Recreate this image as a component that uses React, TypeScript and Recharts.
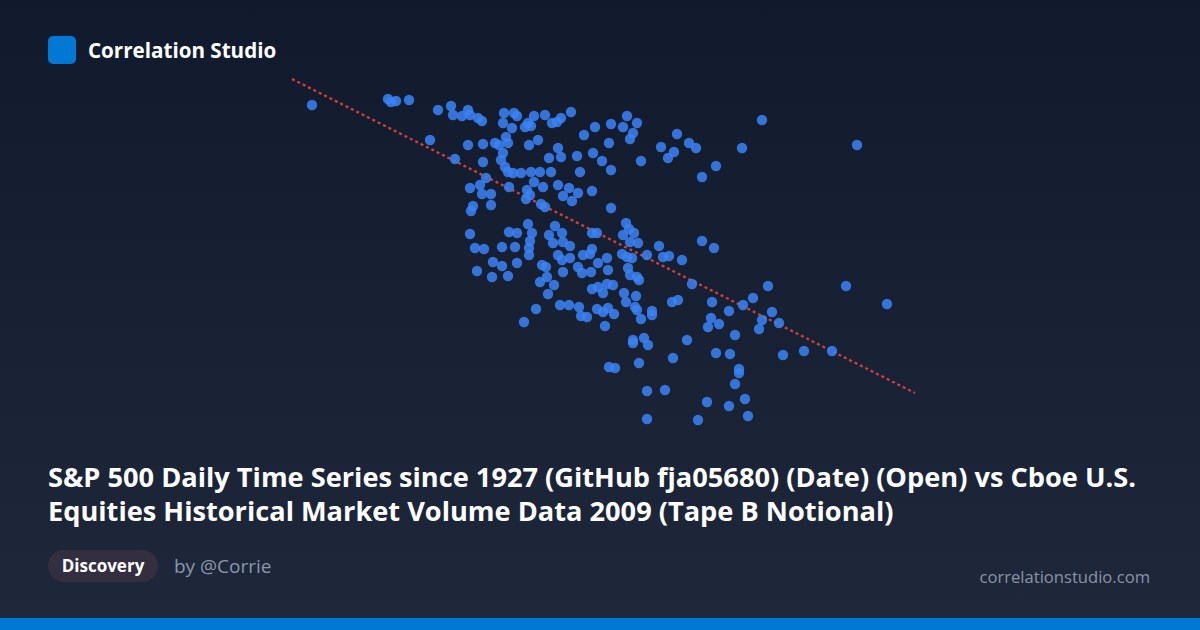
import React from "react";
import { ScatterChart, Scatter, XAxis, YAxis, ReferenceLine } from "recharts";

// S&P 500 daily Open (x) vs Cboe Tape B notional (y)
const spOpen: number[] = [
  712, 788, 791, 796, 809, 838, 851, 853, 868, 862, 870, 878, 882, 830, 868, 883, 895, 855, 883, 886,
  870, 880, 882, 891, 873, 871, 891, 870, 875, 884, 893, 877, 892, 904, 914, 917, 903, 912, 934, 928,
  931, 925, 945, 899, 908, 906, 903, 901, 929, 938, 905, 908, 913, 921, 931, 940, 934, 909, 927, 930,
  926, 943, 941, 945, 928, 932, 909, 917, 930, 929, 929, 902, 915, 902, 917, 908, 942, 940, 936, 924,
  952, 957, 961, 971, 995, 1011, 1023, 1027, 984, 958, 961, 949, 977, 993, 1002, 1009, 1011, 951, 980, 958,
  969, 978, 963, 972, 992, 1011, 955, 949, 962, 953, 963, 970, 992, 997, 1026, 1029, 1034, 1023, 958, 962,
  970, 983, 990, 992, 998, 1007, 1008, 1022, 1027, 978, 982, 991, 963, 946, 947, 954, 948, 992, 998, 1003,
  1007, 1013, 1024, 1026, 960, 969, 979, 981, 987, 997, 1003, 1008, 1014, 1005, 1037, 1033, 1030, 1077, 1061, 1074,
  1068, 1089, 1096, 1041, 1116, 1102, 1030, 1038, 1102, 1114, 1059, 1032, 1047, 1063, 1069, 1082, 1028, 1030, 1037, 1039,
  1092, 1036, 1035, 1037, 1041, 1052, 1052, 1072, 1078, 1112, 1111, 1108, 1087, 1033, 1033, 1044, 1048, 1073, 1039, 1009,
  1015, 1047, 1065, 1047, 1168, 1246, 1287, 1153, 1143, 1129, 1172, 1119, 1162, 1159, 1179, 1135, 1116, 1130, 1183, 1204,
  1232, 1139, 1139, 1135, 1107, 1145, 1129, 1098, 1148, 1162, 1257, 1142,
];

const tapeBNotional: number[] = [
  395, 401, 398, 399, 400, 390, 394, 385, 390, 384, 385, 382, 379, 360, 355, 356, 357, 341, 338, 322,
  312, 315, 306, 306, 294, 289, 295, 266, 252, 251, 238, 229, 223, 387, 387, 384, 377, 372, 384, 377,
  374, 373, 385, 355, 357, 363, 347, 340, 355, 360, 333, 328, 327, 327, 328, 328, 318, 313, 310, 305,
  301, 313, 296, 293, 276, 267, 268, 267, 259, 252, 245, 253, 253, 234, 237, 224, 235, 218, 191, 178,
  377, 378, 382, 388, 373, 376, 373, 384, 365, 352, 343, 342, 344, 347, 339, 357, 330, 328, 328, 315,
  312, 307, 304, 299, 309, 292, 274, 265, 267, 257, 258, 254, 267, 267, 277, 271, 267, 265, 245, 240,
  242, 245, 246, 251, 237, 242, 230, 246, 243, 233, 227, 228, 228, 233, 223, 215, 206, 211, 213, 207,
  216, 215, 207, 198, 195, 195, 193, 184, 183, 191, 188, 192, 186, 174, 377, 367, 361, 366, 353, 348,
  342, 357, 352, 339, 334, 323, 258, 257, 259, 252, 254, 242, 245, 243, 244, 240, 232, 225, 223, 220,
  216, 204, 193, 190, 181, 189, 185, 198, 200, 198, 182, 173, 160, 160, 157, 162, 155, 142, 137, 133,
  132, 109, 110, 81, 214, 214, 196, 202, 195, 189, 188, 176, 180, 171, 177, 165, 147, 146, 145, 149,
  149, 131, 127, 116, 98, 101, 94, 80, 84, 380, 355, 352,
];

// Trend line end points (Open, Notional)
const trendOpen: number[] = [692, 1315];
const trendNotional: number[] = [421, 107];

const xDomain: [number, number] = [680, 1320];
const yDomain: [number, number] = [60, 430];

const points = spOpen.map((x, i) => ({ x, y: tapeBNotional[i] }));

const titleLines: string[] = [
  "S&P 500 Daily Time Series since 1927 (GitHub fja05680) (Date) (Open) vs Cboe U.S.",
  "Equities Historical Market Volume Data 2009 (Tape B Notional)",
];

const FONT = "'Open Sans', 'Noto Sans', sans-serif";

const Dot = (props: any) => {
  const { cx, cy } = props;
  if (cx == null || cy == null) return null;
  return <circle cx={cx} cy={cy} r={5.2} fill="#3b82f6" fillOpacity={0.85} />;
};

export default function App() {
  return (
    <div
      style={{
        position: "absolute",
        left: 0,
        top: 0,
        width: 1200,
        height: 630,
        overflow: "hidden",
        background: "linear-gradient(180deg, #111a2c 0%, #1e283a 100%)",
        fontFamily: FONT,
      }}
    >
      {/* header */}
      <div
        style={{
          position: "absolute",
          left: 48,
          top: 36,
          width: 28,
          height: 28,
          borderRadius: 5,
          background: "#0078d4",
        }}
      />
      <div
        style={{
          position: "absolute",
          left: 88,
          top: 36,
          height: 28,
          lineHeight: "28px",
          fontSize: 20.6,
          fontWeight: 700,
          color: "#ffffff",
        }}
      >
        Correlation Studio
      </div>

      {/* chart */}
      <div style={{ position: "absolute", left: 280, top: 70 }}>
        <ScatterChart width={640} height={370} margin={{ top: 0, right: 0, bottom: 0, left: 0 }}>
          <XAxis type="number" dataKey="x" domain={xDomain} hide allowDataOverflow />
          <YAxis type="number" dataKey="y" domain={yDomain} hide allowDataOverflow />
          <ReferenceLine
            segment={[
              { x: trendOpen[0], y: trendNotional[0] },
              { x: trendOpen[1], y: trendNotional[1] },
            ]}
            stroke="#d9413f"
            strokeWidth={2.3}
            strokeDasharray="3 3"
            strokeOpacity={0.95}
          />
          <Scatter data={points} shape={<Dot />} isAnimationActive={false} />
        </ScatterChart>
      </div>

      {/* title */}
      <div
        style={{
          position: "absolute",
          left: 48,
          top: 460,
          fontSize: 27.2,
          lineHeight: "34px",
          fontWeight: 700,
          color: "#ffffff",
          whiteSpace: "nowrap",
        }}
      >
        {titleLines.map((t, i) => (
          <div key={i}>{t}</div>
        ))}
      </div>

      {/* footer */}
      <div
        style={{
          position: "absolute",
          left: 48,
          top: 550,
          width: 110,
          height: 32,
          borderRadius: 16,
          background: "#332e40",
          color: "#ffffff",
          fontSize: 17,
          fontWeight: 700,
          lineHeight: "32px",
          textAlign: "center",
        }}
      >
        Discovery
      </div>
      <div
        style={{
          position: "absolute",
          left: 174,
          top: 550,
          height: 32,
          lineHeight: "32px",
          fontSize: 19,
          color: "#8b96aa",
        }}
      >
        by @Corrie
      </div>
      <div
        style={{
          position: "absolute",
          right: 50,
          top: 561,
          height: 32,
          lineHeight: "32px",
          fontSize: 16.6,
          color: "#8a94a6",
        }}
      >
        correlationstudio.com
      </div>

      {/* bottom bar */}
      <div
        style={{
          position: "absolute",
          left: 0,
          bottom: 0,
          width: 1200,
          height: 12,
          background: "#0078d4",
        }}
      />
    </div>
  );
}
